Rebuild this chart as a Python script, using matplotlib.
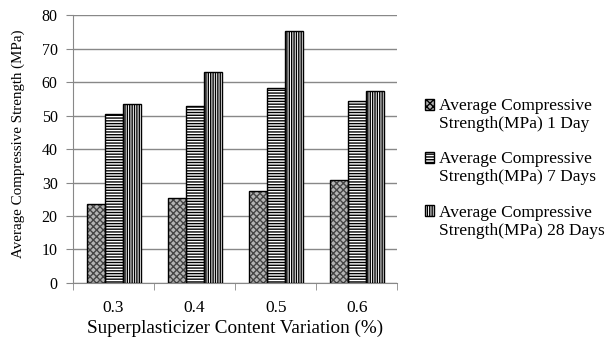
import numpy as np
import matplotlib
matplotlib.use('Agg')
import matplotlib.pyplot as plt
from matplotlib.patches import Patch, Rectangle
from matplotlib.legend_handler import HandlerPatch

categories = ['0.3', '0.4', '0.5', '0.6']
day1 = [23.7, 25.3, 27.4, 30.7]
day7 = [50.4, 52.8, 58.2, 54.4]
day28 = [53.4, 62.9, 75.1, 57.4]
series_names = ['Average Compressive\nStrength(MPa) 1 Day',
                'Average Compressive\nStrength(MPa) 7 Days',
                'Average Compressive\nStrength(MPa) 28 Days']

plt.rcParams['font.family'] = ['Liberation Serif', 'DejaVu Serif']
plt.rcParams['hatch.linewidth'] = 1.0

fig = plt.figure(figsize=(6.06, 3.43), dpi=100)
ax = fig.add_axes([0.1205, 0.175, 0.535, 0.781])

x = np.arange(len(categories))
w = 1 / 4.5
# fill/hatch layer, outline drawn separately in black
fills = [
    dict(facecolor='#b4b4b4', hatch='xxxxx', edgecolor='#454545'),
    dict(facecolor='white', hatch='------', edgecolor='black'),
    dict(facecolor='white', hatch='|||||||', edgecolor='black'),
]
for i, vals in enumerate([day1, day7, day28]):
    pos = x + (i - 1) * w
    ax.bar(pos, vals, width=w, linewidth=0, zorder=3, **fills[i])
    ax.bar(pos, vals, width=w, facecolor='none', edgecolor='black',
           linewidth=1.0, zorder=4)

ax.set_xlim(-0.5, 3.5)
ax.set_ylim(0, 80)
ax.set_yticks(range(0, 81, 10))
ax.set_xticks(x)
ax.set_xticklabels(categories)
ax.set_xticks(np.arange(-0.5, 4.0, 1.0), minor=True)
ax.tick_params(axis='x', which='major', length=0, labelsize=12.5, pad=12)
ax.tick_params(axis='x', which='minor', length=5, color='#888888')
ax.tick_params(axis='y', length=5, color='#888888', labelsize=11.5, pad=6)
ax.grid(axis='y', color='#888888', linewidth=1.0, zorder=0)
ax.set_axisbelow(True)
for side in ['top', 'right']:
    ax.spines[side].set_visible(False)
for side in ['left', 'bottom']:
    ax.spines[side].set_color('#888888')

ax.set_xlabel('Superplasticizer Content Variation (%)', fontsize=13.8, labelpad=3)
ax.set_ylabel('Average Compressive Strength (MPa)', fontsize=10.8)
ax.yaxis.set_label_coords(-0.148, 0.52)


def top_aligned_box(legend, orig_handle, xdescent, ydescent, width, height, fontsize):
    # keep the key square level with the first line of the two-line label
    return Rectangle((-xdescent, -ydescent + 0.62 * fontsize), width, height)


handles = [Patch(linewidth=1.0, facecolor=f['facecolor'], hatch=f['hatch'],
                 edgecolor='black') for f in fills]
leg = fig.legend(handles, series_names, loc='center left', bbox_to_anchor=(0.675, 0.509),
                 frameon=False, fontsize=12.5, handlelength=0.55, handleheight=0.55,
                 handletextpad=0.3, labelspacing=1.1,
                 handler_map={Patch: HandlerPatch(patch_func=top_aligned_box)})
for t in leg.get_texts():
    t.set_linespacing(1.17)

fig.savefig('out.png', dpi=100)
